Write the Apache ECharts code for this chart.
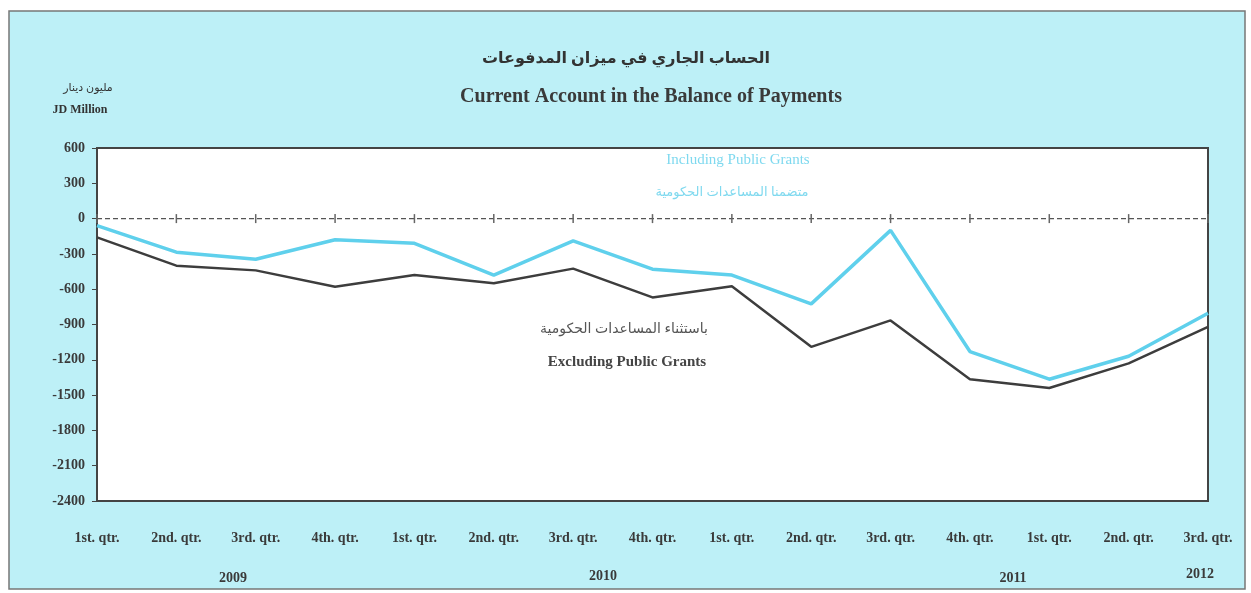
<!DOCTYPE html>
<html>
<head>
<meta charset="utf-8">
<script src="https://cdn.jsdelivr.net/npm/echarts@6/dist/echarts.min.js"></script>
<style>
  html, body { margin: 0; padding: 0; background: #ffffff; }
  #chart { width: 1251px; height: 593px; }
</style>
</head>
<body>
<div id="chart"></div>
<script>
// quarters (2009 Q1 .. 2012 Q3)
var quarters = ['1st. qtr.', '2nd. qtr.', '3rd. qtr.', '4th. qtr.',
                '1st. qtr.', '2nd. qtr.', '3rd. qtr.', '4th. qtr.',
                '1st. qtr.', '2nd. qtr.', '3rd. qtr.', '4th. qtr.',
                '1st. qtr.', '2nd. qtr.', '3rd. qtr.'];
// JD million
var includingGrants = [-60, -285, -345, -180, -210, -480, -190, -430, -480, -725, -100, -1130, -1365, -1170, -805];
var excludingGrants = [-160, -400, -440, -580, -480, -550, -425, -670, -575, -1090, -865, -1365, -1440, -1230, -920];
var zeroLine = [0, 0, 0, 0, 0, 0, 0, 0, 0, 0, 0, 0, 0, 0, 0];
var yearLabels = ['2009', '2010', '2011', '2012'];

var serif = '"Liberation Serif", "DejaVu Serif", serif';
var arabic = '"Noto Sans", "DejaVu Sans", sans-serif';

var myChart = echarts.init(document.getElementById('chart'));

// small helper for centred text labels
function label(txt, x, y, font, color) {
  return {
    type: 'text', x: x, y: y, silent: true,
    style: { text: txt, font: font, fill: color, textAlign: 'center', textVerticalAlign: 'middle' }
  };
}

var option = {
  animation: false,
  backgroundColor: '#ffffff',
  grid: {
    left: 97, right: 43, top: 148, bottom: 92,
    show: true,
    backgroundColor: '#ffffff',
    borderColor: '#444',
    borderWidth: 2
  },
  xAxis: {
    type: 'category',
    data: quarters,
    boundaryGap: false,
    axisLine: { onZero: false, show: false },
    axisTick: { show: false },
    splitLine: { show: false },
    axisLabel: {
      margin: 30,
      interval: 0,
      fontFamily: serif, fontSize: 14, fontWeight: 'bold', color: '#3a3a3a'
    }
  },
  yAxis: {
    type: 'value',
    min: -2400, max: 600, interval: 300,
    axisLine: { show: true, lineStyle: { color: '#444', width: 2 } },
    axisTick: { show: true, length: 5, lineStyle: { color: '#444' } },
    splitLine: { show: false },
    axisLabel: {
      margin: 12,
      formatter: function (v) { return String(v); },
      fontFamily: serif, fontSize: 14, fontWeight: 'bold', color: '#3a3a3a'
    }
  },
  series: [
    {
      name: 'zero',
      type: 'line',
      data: zeroLine,
      symbol: 'rect',
      symbolSize: [1.5, 9],
      itemStyle: { color: '#666' },
      lineStyle: { color: '#555', width: 1.2, type: [5, 3] },
      z: 1
    },
    {
      name: 'Excluding Public Grants',
      type: 'line',
      data: excludingGrants,
      symbol: 'none',
      lineStyle: { color: '#3d3d3d', width: 2.5 },
      z: 2
    },
    {
      name: 'Including Public Grants',
      type: 'line',
      data: includingGrants,
      symbol: 'none',
      lineStyle: { color: '#5fd0ec', width: 3.5 },
      z: 3
    }
  ],
  graphic: [
    {
      type: 'rect', z: -10, silent: true,
      shape: { x: 9, y: 11, width: 1236, height: 578 },
      style: { fill: '#bdf0f7', stroke: '#777', lineWidth: 1.5 }
    },
    label('الحساب الجاري في ميزان المدفوعات', 626, 58, 'bold 16px ' + arabic, '#333'),
    label('Current Account in the Balance of Payments', 651, 97, 'bold 20px ' + serif, '#3a3a3a'),
    label('مليون دينار', 88, 88, '11px ' + arabic, '#333'),
    label('JD Million', 80, 110, 'bold 12px ' + serif, '#333'),
    label('Including Public Grants', 738, 160, '15px ' + serif, '#7fd9ef'),
    label('متضمنا المساعدات الحكومية', 732, 192, '13px ' + arabic, '#7fd9ef'),
    label('باستثناء المساعدات الحكومية', 624, 329, '14px ' + arabic, '#555'),
    label('Excluding Public Grants', 627, 362, 'bold 15px ' + serif, '#444'),
    label(yearLabels[0], 233, 578, 'bold 14px ' + serif, '#3a3a3a'),
    label(yearLabels[1], 603, 576, 'bold 14px ' + serif, '#3a3a3a'),
    label(yearLabels[2], 1013, 578, 'bold 14px ' + serif, '#3a3a3a'),
    label(yearLabels[3], 1200, 574, 'bold 14px ' + serif, '#3a3a3a')
  ]
};

myChart.setOption(option);
</script>
</body>
</html>
